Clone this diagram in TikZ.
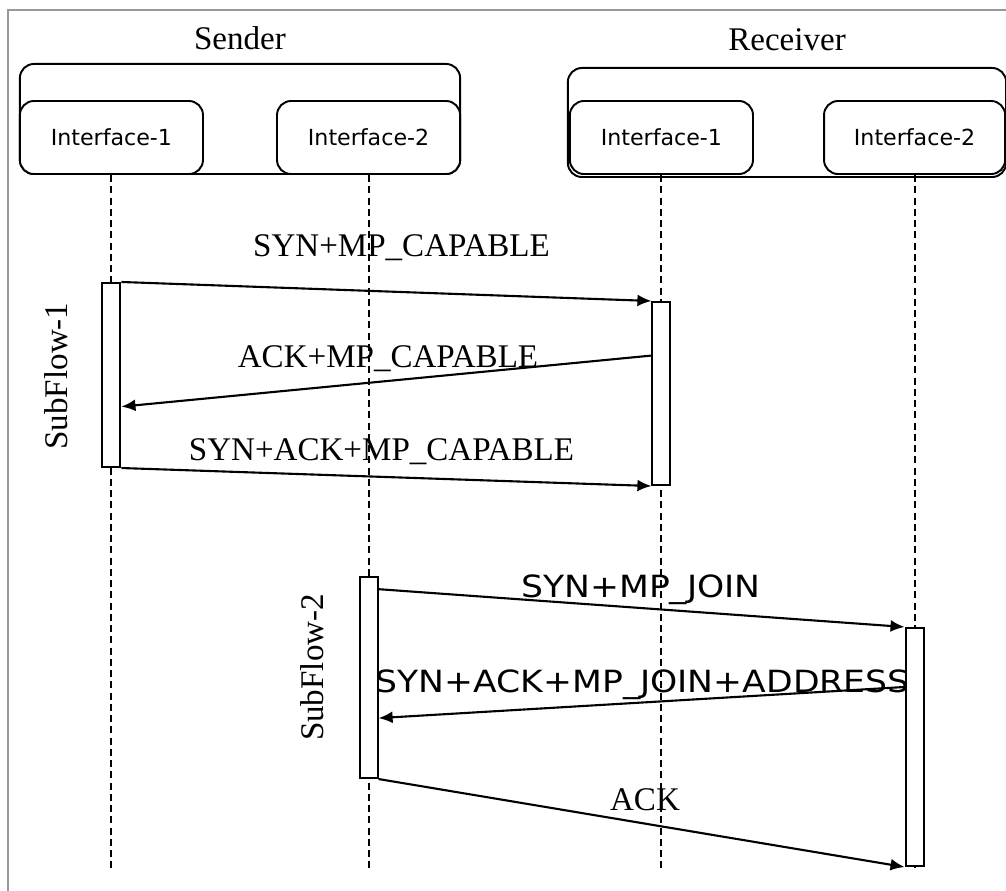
\documentclass[tikz,border=0pt]{standalone}
\usepackage{fontspec}
\setmainfont{Liberation Serif}
\newfontfamily\ifacefont{DejaVu Sans}
\newfontfamily\joinfont[FakeStretch=1.13]{DejaVu Sans}
\usetikzlibrary{arrows.meta,positioning,calc}

\tikzset{
  grupo/.style={draw, rounded corners=4pt, minimum height=1.1cm, inner sep=0pt, line width=0.55pt},
  iface/.style={draw, fill=white, rounded corners=4pt, minimum width=1.83cm, line width=0.55pt,
    minimum height=0.73cm, inner sep=0pt, font=\ifacefont\fontsize{6.3}{7}\selectfont},
  titulo/.style={inner sep=0pt, font=\fontsize{9.4}{11}\selectfont},
  vida/.style={dash pattern=on 2pt off 1.2pt, line width=0.55pt},
  activo/.style={draw, fill=white, minimum width=0.18cm, inner sep=0pt, line width=0.55pt},
  msg/.style={-{Latex[length=4pt,width=3.4pt]}, line width=0.6pt},
  etq/.style={inner sep=0pt, anchor=base, font=\fontsize{9.4}{11}\selectfont},
  etqj/.style={inner sep=0pt, anchor=base, font=\joinfont\fontsize{8.7}{10}\selectfont},
}

\begin{document}
\begin{tikzpicture}[x=0.01cm, y=-0.01cm]
\useasboundingbox (0,0) rectangle (1006,891);

% Marco
\draw[gray!80, line width=0.6pt] (8,891) -- (8,10) -- (1006,10);

% Sender
\node[grupo, minimum width=4.4cm] (sgrp) at (240,119) {};
\node[titulo, above=0.12cm of sgrp] (stit) {Sender};
\node[iface, anchor=south west] (si1) at (sgrp.south west) {Interface-1};
\node[iface, anchor=south east] (si2) at (sgrp.south east) {Interface-2};

% Receiver
\node[grupo, minimum width=4.38cm, minimum height=1.09cm] (rgrp) at (787,122.5) {};
\node[titulo, above=0.15cm of rgrp] (rtit) {Receiver};
\node[iface, anchor=south west] (ri1) at ([shift={(2,-3)}]rgrp.south west) {Interface-1};
\node[iface, anchor=south east, minimum width=1.81cm] (ri2) at ([shift={(-1,-3)}]rgrp.south east) {Interface-2};

% Lineas de vida
\coordinate (f1) at (si1.south |- 0,869);
\coordinate (f2) at (si2.south |- 0,869);
\coordinate (f3) at (ri1.south |- 0,869);
\coordinate (f4) at (ri2.south |- 0,869);
\draw[vida] (si1.south) -- (f1);
\draw[vida] (si2.south) -- (f2);
\draw[vida] (ri1.south) -- (f3);
\draw[vida] (ri2.south) -- (f4);

% Activaciones
\node[activo, minimum height=1.84cm] (a1) at (si1.south |- 0,375) {};
\node[activo, minimum height=1.83cm] (b1) at (ri1.south |- 0,393.5) {};
\node[activo, minimum height=2.01cm] (a2) at (si2.south |- 0,677.5) {};
\node[activo, minimum height=2.38cm] (b2) at (ri2.south |- 0,747) {};

% SubFlow-1
\draw[msg] (a1.north east) -- (b1.north west);
\draw[msg] ($(b1.north west)!0.295!(b1.south west)$) -- ($(a1.north east)!0.67!(a1.south east)$);
\draw[msg] (a1.south east) -- (b1.south west);
\node[etq] (m1) at (401.5,257) {SYN+MP\_CAPABLE};
\node[etq] (m2) at (388,367) {ACK+MP\_CAPABLE};
\node[etq] (m3) at (381.5,460) {SYN+ACK+MP\_CAPABLE};
\node[titulo, rotate=90] (sf1) at (56,376) {SubFlow-1};

% SubFlow-2
\draw[msg] ($(a2.north east)!0.065!(a2.south east)$) -- (b2.north west);
\draw[msg] ($(b2.north west)!0.25!(b2.south west)$) -- ($(a2.north east)!0.70!(a2.south east)$);
\draw[msg] (a2.south east) -- (b2.south west);
\node[etqj] (m4) at (641,597) {SYN+MP\_JOIN};
\node[etqj] (m5) at (642.5,692) {SYN+ACK+MP\_JOIN+ADDRESS};
\node[etq] (m6) at (645,810) {ACK};
\node[titulo, rotate=90] (sf2) at (312,667.5) {SubFlow-2};
\end{tikzpicture}
\end{document}
